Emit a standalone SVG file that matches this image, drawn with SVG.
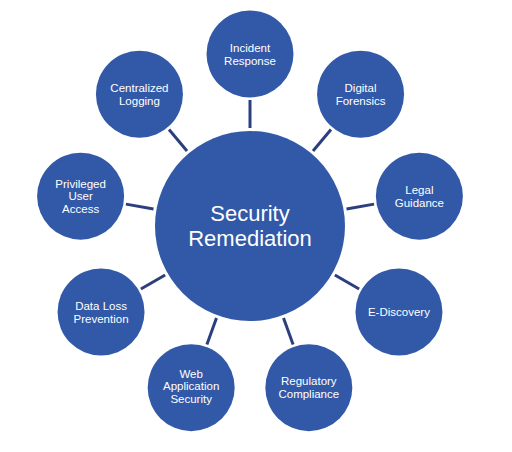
<svg xmlns="http://www.w3.org/2000/svg" width="512" height="452" viewBox="0 0 512 452">
<style>
.n{fill:#3259a8;}
.c line{stroke:#2b3f7e;stroke-width:3;}
text{font-family:"Liberation Sans",Arial,sans-serif;fill:#fff;text-anchor:middle;}
.s{font-size:11.5px;}
.m{font-size:22px;}
</style>
<rect width="512" height="452" fill="#fff"/>
<g class="c" id="connectors">
<line x1="250" y1="128" x2="250" y2="100"/>
<line x1="187" y1="150.93" x2="169.01" y2="129.48"/>
<line x1="313" y1="150.93" x2="330.99" y2="129.48"/>
<line x1="346.51" y1="208.99" x2="374.08" y2="204.13"/>
<line x1="334.87" y1="275" x2="359.12" y2="289"/>
<line x1="283.52" y1="318.09" x2="293.09" y2="344.4"/>
<line x1="216.48" y1="318.09" x2="206.91" y2="344.4"/>
<line x1="165.13" y1="275" x2="140.88" y2="289"/>
<line x1="153.49" y1="208.99" x2="125.92" y2="204.13"/>
</g>
<g id="center">
<circle class="n" cx="250" cy="226" r="95"/>
<text class="m" x="250" y="221">Security</text>
<text class="m" x="250" y="245.5">Remediation</text>
</g>
<g id="incident">
<circle class="n" cx="250" cy="54" r="43.5"/>
<text class="s" x="250" y="51.5">Incident</text>
<text class="s" x="250" y="64.5">Response</text>
</g>
<g id="logging">
<circle class="n" cx="139.44" cy="94.25" r="43.5"/>
<text class="s" x="139.44" y="91.5">Centralized</text>
<text class="s" x="139.44" y="104.5">Logging</text>
</g>
<g id="forensics">
<circle class="n" cx="360.56" cy="94.25" r="43.5"/>
<text class="s" x="360.56" y="91.5">Digital</text>
<text class="s" x="360.56" y="104.5">Forensics</text>
</g>
<g id="legal">
<circle class="n" cx="419.39" cy="196.14" r="43.5"/>
<text class="s" x="419.39" y="193.5">Legal</text>
<text class="s" x="419.39" y="206.5">Guidance</text>
</g>
<g id="ediscovery">
<circle class="n" cx="398.96" cy="312" r="43.5"/>
<text class="s" x="398.96" y="316">E-Discovery</text>
</g>
<g id="regulatory">
<circle class="n" cx="308.82" cy="387.63" r="43.5"/>
<text class="s" x="308.82" y="385">Regulatory</text>
<text class="s" x="308.82" y="398">Compliance</text>
</g>
<g id="webapp">
<circle class="n" cx="191.18" cy="387.63" r="43.5"/>
<text class="s" x="191.18" y="377.5">Web</text>
<text class="s" x="191.18" y="390">Application</text>
<text class="s" x="191.18" y="402.5">Security</text>
</g>
<g id="dataloss">
<circle class="n" cx="101.04" cy="312" r="43.5"/>
<text class="s" x="101.04" y="309.5">Data Loss</text>
<text class="s" x="101.04" y="322.5">Prevention</text>
</g>
<g id="privileged">
<circle class="n" cx="80.61" cy="196.14" r="43.5"/>
<text class="s" x="80.61" y="187.5">Privileged</text>
<text class="s" x="80.61" y="200">User</text>
<text class="s" x="80.61" y="212.5">Access</text>
</g>
</svg>
